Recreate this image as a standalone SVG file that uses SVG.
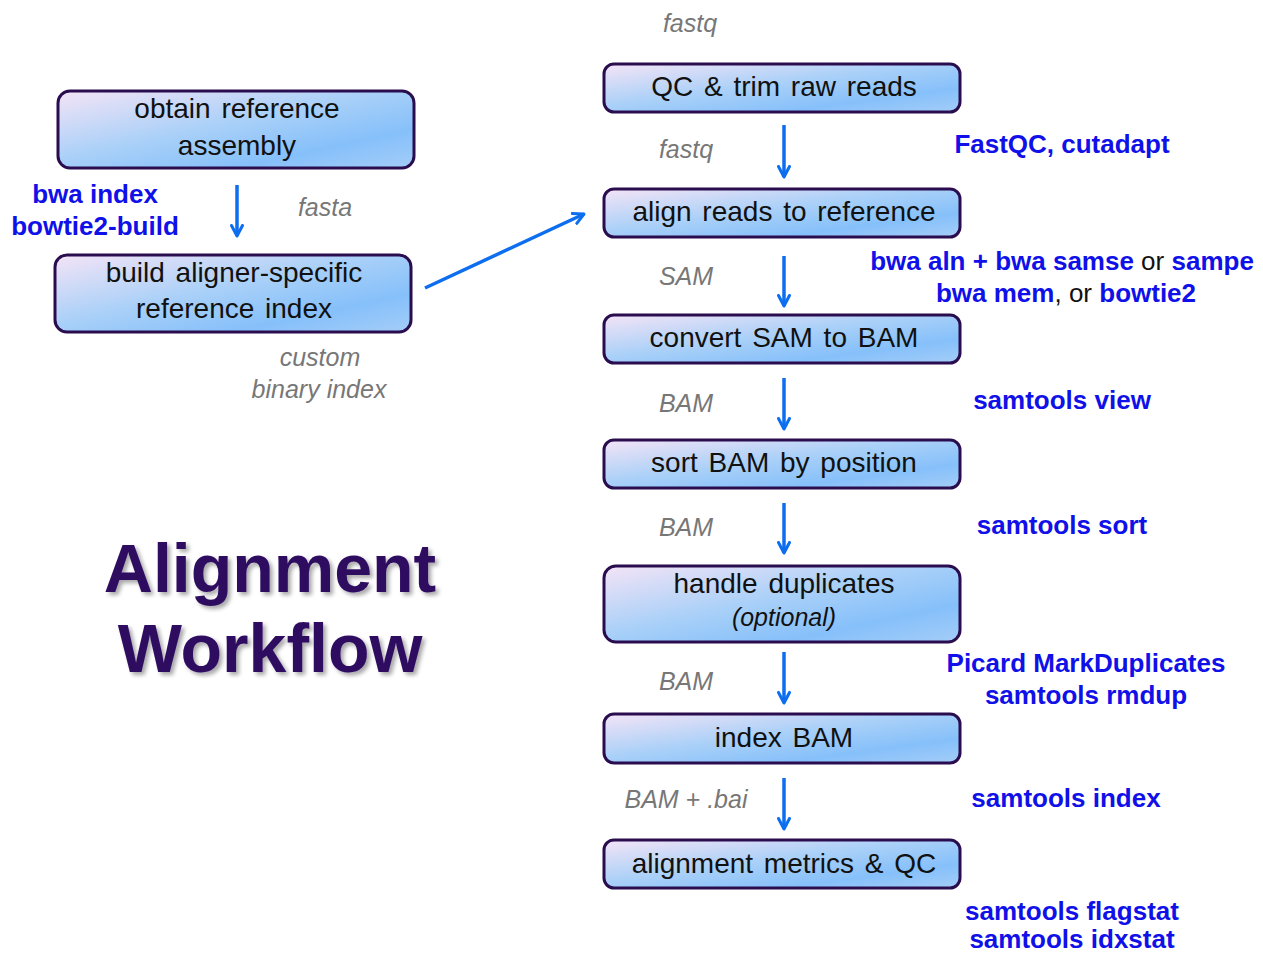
<svg xmlns="http://www.w3.org/2000/svg" width="1263" height="953" viewBox="0 0 1263 953">
<defs>
<linearGradient id="bg" x1="0" y1="0" x2="1" y2="1">
<stop offset="0" stop-color="#f4e4f6"/>
<stop offset="0.45" stop-color="#a9d0f8"/>
<stop offset="0.75" stop-color="#86c0fa"/>
<stop offset="1" stop-color="#a4cdf8"/>
</linearGradient>
<marker id="ah" viewBox="0 0 14 14" refX="12" refY="7" markerWidth="14" markerHeight="14" markerUnits="userSpaceOnUse" orient="auto">
<path d="M1.5,1.5 L12,7 L1.5,12.5" fill="none" stroke="#0d6ef0" stroke-width="3" stroke-linecap="round" stroke-linejoin="round"/>
</marker>
<filter id="sh" x="-10%" y="-10%" width="120%" height="130%">
<feGaussianBlur in="SourceAlpha" stdDeviation="2"/>
<feOffset dx="3" dy="3" result="b"/>
<feComponentTransfer><feFuncA type="linear" slope="0.35"/></feComponentTransfer>
<feMerge><feMergeNode/><feMergeNode in="SourceGraphic"/></feMerge>
</filter>
</defs>
<style>
.box{fill:url(#bg);stroke:#2a0d4e;stroke-width:3}
.bt{font-family:"Liberation Sans",Arial,sans-serif;font-size:28px;fill:#111;text-anchor:middle;word-spacing:3px}
.it{font-family:"Liberation Sans",Arial,sans-serif;font-size:25px;font-style:italic;fill:#777;text-anchor:middle}
.tool{font-family:"Liberation Sans",Arial,sans-serif;font-size:26px;font-weight:bold;fill:#1010e8;text-anchor:middle}
.blk{fill:#111;font-weight:normal}
.arr{stroke:#0d6ef0;stroke-width:3.5;fill:none;marker-end:url(#ah)}
.title{font-family:"Liberation Sans",Arial,sans-serif;font-size:68px;font-weight:bold;fill:#2e0a60;text-anchor:middle}
</style>
<rect width="1263" height="953" fill="#fff"/>

<g id="obtain"><rect class="box" x="58" y="91" width="356" height="77" rx="12"/><text class="bt" x="237" y="118">obtain reference</text><text class="bt" x="237" y="155">assembly</text></g>
<g id="build"><rect class="box" x="55" y="255" width="356" height="77" rx="12"/><text class="bt" x="234" y="282">build aligner-specific</text><text class="bt" x="234" y="318">reference index</text></g>
<g id="qc"><rect class="box" x="604" y="64" width="356" height="48" rx="10"/><text class="bt" x="784" y="96">QC &amp; trim raw reads</text></g>
<g id="align"><rect class="box" x="604" y="189" width="356" height="48" rx="10"/><text class="bt" x="784" y="221">align reads to reference</text></g>
<g id="convert"><rect class="box" x="604" y="315" width="356" height="48" rx="10"/><text class="bt" x="784" y="347">convert SAM to BAM</text></g>
<g id="sort"><rect class="box" x="604" y="440" width="356" height="48" rx="10"/><text class="bt" x="784" y="472">sort BAM by position</text></g>
<g id="dup"><rect class="box" x="604" y="566" width="356" height="76" rx="12"/><text class="bt" x="784" y="593">handle duplicates</text><text class="bt" x="784" y="626" style="font-style:italic;font-size:25px">(optional)</text></g>
<g id="index"><rect class="box" x="604" y="714" width="356" height="49" rx="10"/><text class="bt" x="784" y="747">index BAM</text></g>
<g id="metrics"><rect class="box" x="604" y="840" width="356" height="48" rx="10"/><text class="bt" x="784" y="873">alignment metrics &amp; QC</text></g>

<g id="connectors">
<line class="arr" x1="237" y1="185" x2="237" y2="236"/>
<line class="arr" x1="425" y1="288" x2="584" y2="214"/>
<line class="arr" x1="784" y1="125" x2="784" y2="177"/>
<line class="arr" x1="784" y1="256" x2="784" y2="306"/>
<line class="arr" x1="784" y1="378" x2="784" y2="429"/>
<line class="arr" x1="784" y1="503" x2="784" y2="553"/>
<line class="arr" x1="784" y1="652" x2="784" y2="703"/>
<line class="arr" x1="784" y1="778" x2="784" y2="829"/>
</g>

<g id="labels">
<text class="it" x="690" y="32">fastq</text>
<text class="it" x="686" y="158">fastq</text>
<text class="it" x="325" y="216">fasta</text>
<text class="it" x="686" y="285">SAM</text>
<text class="it" x="686" y="412">BAM</text>
<text class="it" x="686" y="536">BAM</text>
<text class="it" x="686" y="690">BAM</text>
<text class="it" x="686" y="808">BAM + .bai</text>
<text class="it" x="320" y="366">custom</text>
<text class="it" x="319" y="398">binary index</text>

<text class="tool" x="1062" y="153">FastQC, cutadapt</text>
<text class="tool" x="95" y="203">bwa index</text>
<text class="tool" x="95" y="235">bowtie2-build</text>
<text class="tool" x="1062" y="270">bwa aln + bwa samse <tspan class="blk">or</tspan> sampe</text>
<text class="tool" x="1066" y="302">bwa mem<tspan class="blk">, or</tspan> bowtie2</text>
<text class="tool" x="1062" y="409">samtools view</text>
<text class="tool" x="1062" y="534">samtools sort</text>
<text class="tool" x="1086" y="672">Picard MarkDuplicates</text>
<text class="tool" x="1086" y="704">samtools rmdup</text>
<text class="tool" x="1066" y="807">samtools index</text>
<text class="tool" x="1072" y="920">samtools flagstat</text>
<text class="tool" x="1072" y="948">samtools idxstat</text>
</g>

<g id="title" filter="url(#sh)">
<text class="title" x="270" y="592">Alignment</text>
<text class="title" x="270" y="672">Workflow</text>
</g>
</svg>
